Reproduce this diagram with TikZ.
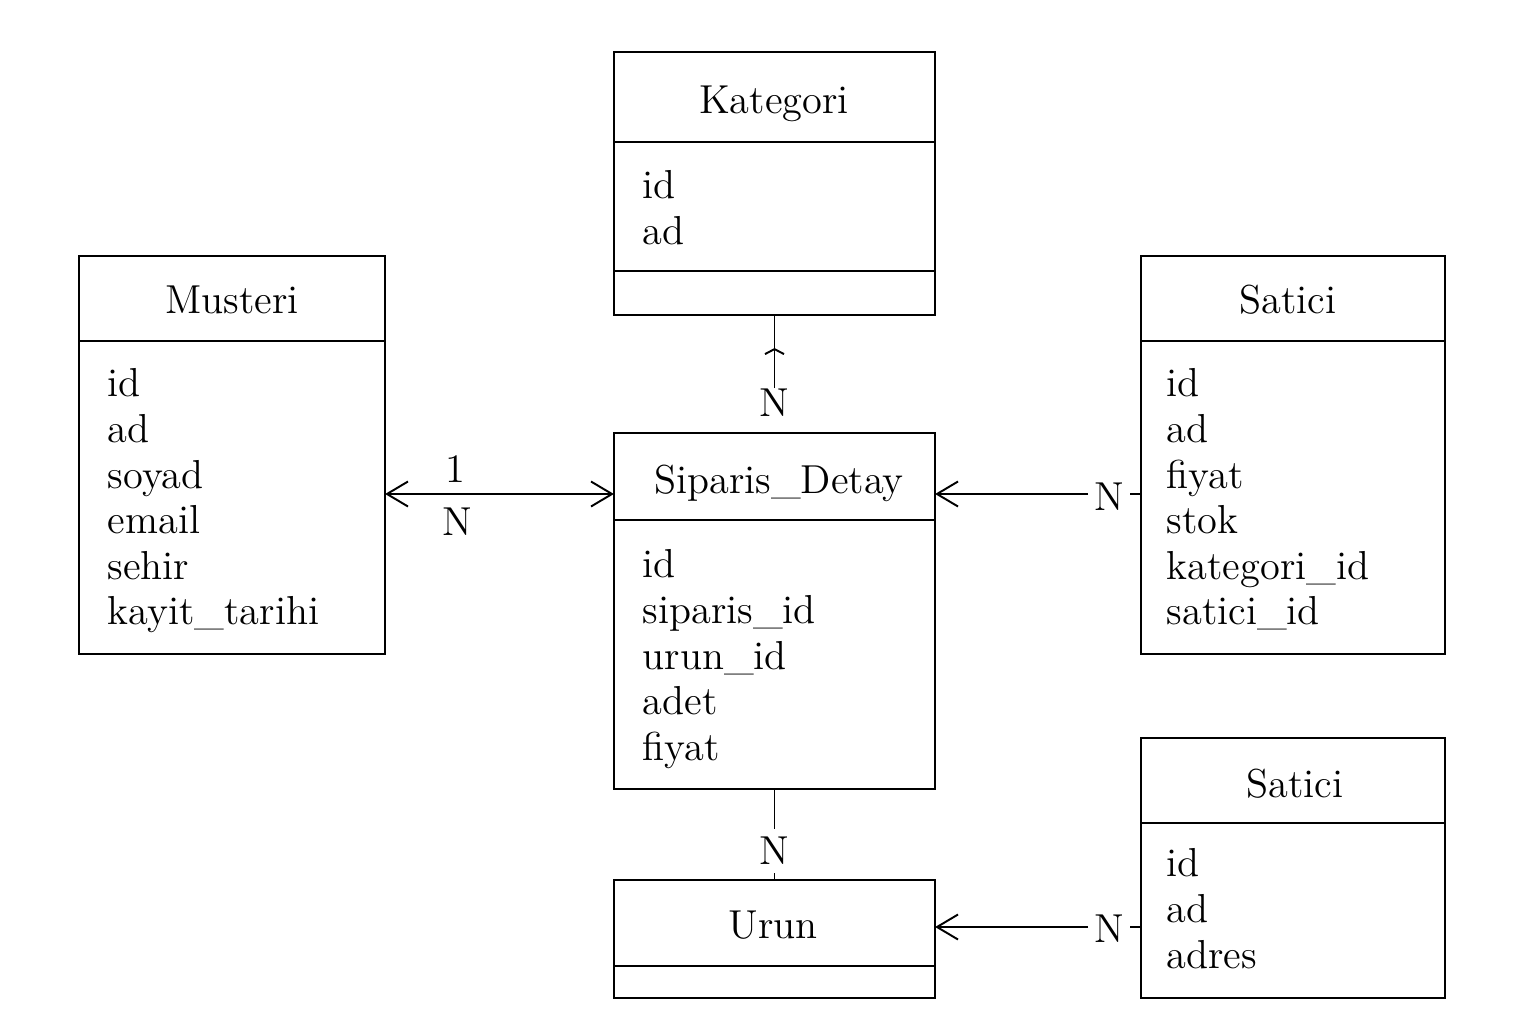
\documentclass[tikz,border=0pt]{standalone}
\usetikzlibrary{arrows.meta,calc}
\begin{document}
\begin{tikzpicture}[x=0.01cm,y=-0.01cm,
  ent/.style={draw,line width=0.6pt,rectangle,inner sep=0pt,outer sep=0pt},
  div/.style={line width=0.6pt},
  conn/.style={line width=0.55pt},
  ttl/.style={anchor=base,inner sep=0pt,font=\fontsize{11.5pt}{13pt}\selectfont},
  attr/.style={anchor=base west,inner sep=0pt,font=\fontsize{11.5pt}{13pt}\selectfont},
  card/.style={inner sep=1.5pt,font=\fontsize{11.5pt}{13pt}\selectfont},
  barb/.style={-{Straight Barb[length=0.21cm,width=0.25cm,line width=0.55pt]}},
  dbarb/.style={{Straight Barb[length=0.21cm,width=0.25cm,line width=0.55pt]}-{Straight Barb[length=0.21cm,width=0.25cm,line width=0.55pt]}}
]
\useasboundingbox[fill=white] (0,0) rectangle (1536,1024);

% Kategori
\node[ent,minimum width=3.21cm,minimum height=2.63cm] (kat) at (774.5,183.5) {};
\draw[div] (kat.west |- 0,142) -- (kat.east |- 0,142);
\draw[div] (kat.west |- 0,271) -- (kat.east |- 0,271);
\node[ttl] (katT) at (774,113) {Kategori};
\node[attr] (kat1) at (642,198) {id};
\node[attr] (kat2) at (642,244) {ad};

% Musteri
\node[ent,minimum width=3.06cm,minimum height=3.98cm] (mus) at (232,455) {};
\draw[div] (mus.west |- 0,341) -- (mus.east |- 0,341);
\node[ttl] (musT) at (232,313) {Musteri};
\node[attr] (mus1) at (107,396) {id};
\node[attr] (mus2) at (107,442) {ad};
\node[attr] (mus3) at (107,488) {soyad};
\node[attr] (mus4) at (107,533) {email};
\node[attr] (mus5) at (107,579) {sehir};
\node[attr] (mus6) at (107,624) {kayit\_tarihi};

% Siparis_Detay
\node[ent,minimum width=3.21cm,minimum height=3.56cm] (sip) at (774.5,611) {};
\draw[div] (sip.west |- 0,520) -- (sip.east |- 0,520);
\node[ttl] (sipT) at (779,493) {Siparis\_Detay};
\node[attr] (sip1) at (642,577) {id};
\node[attr] (sip2) at (642,623) {siparis\_id};
\node[attr] (sip3) at (642,669) {urun\_id};
\node[attr] (sip4) at (642,714) {adet};
\node[attr] (sip5) at (642,760) {fiyat};

% Satici (top)
\node[ent,minimum width=3.04cm,minimum height=3.98cm] (sat) at (1293,455) {};
\draw[div] (sat.west |- 0,341) -- (sat.east |- 0,341);
\node[ttl] (satT) at (1288,313) {Satici};
\node[attr] (sat1) at (1166,396) {id};
\node[attr] (sat2) at (1166,442) {ad};
\node[attr] (sat3) at (1166,488) {fiyat};
\node[attr] (sat4) at (1166,533) {stok};
\node[attr] (sat5) at (1166,579) {kategori\_id};
\node[attr] (sat6) at (1166,624) {satici\_id};

% Satici (bottom)
\node[ent,minimum width=3.04cm,minimum height=2.60cm] (satb) at (1293,868) {};
\draw[div] (satb.west |- 0,823) -- (satb.east |- 0,823);
\node[ttl] (satbT) at (1295,797) {Satici};
\node[attr] (satb1) at (1166,876) {id};
\node[attr] (satb2) at (1166,922) {ad};
\node[attr] (satb3) at (1166,968) {adres};

% Urun
\node[ent,minimum width=3.21cm,minimum height=1.18cm] (urun) at (774.5,939) {};
\draw[div] (urun.west |- 0,966) -- (urun.east |- 0,966);
\node[ttl] (urunT) at (773,938) {Urun};

% Kategori -- Siparis_Detay
\node[card,anchor=north,inner sep=0pt] (nK) at (774,388) {N};
\coordinate (kMark) at (775,348);
\draw[conn] (kat.south) -- (kat.south |- nK.north);
\draw[conn,-{Straight Barb[length=0.05cm,width=0.19cm,line width=0.55pt]}] (kat.south |- nK.north) -- (kat.south |- kMark);

% Musteri <-> Siparis_Detay
\draw[conn,dbarb] (mus.east |- 0,494) -- (sip.west |- 0,494);
\node[card] (one) at (455,469) {1};
\node[card] (nM) at (457,522) {N};

% Satici -> Siparis_Detay
\node[card] (nS) at (1109,497) {N};
\draw[conn] (sat.west |- 0,494) -- (nS.east |- 0,494);
\draw[conn,barb] (nS.west |- 0,494) -- (sip.east |- 0,494);

% Siparis_Detay -- Urun
\node[card,inner sep=2.2pt] (nU) at (774,851) {N};
\draw[conn] (sip.south) -- (sip.south |- nU.north);
\draw[conn] (sip.south |- nU.south) -- (urun.north);

% Satici (bottom) -> Urun
\node[card] (nB) at (1109,929) {N};
\draw[conn] (satb.west |- 0,927) -- (nB.east |- 0,927);
\draw[conn,barb] (nB.west |- 0,927) -- (urun.east |- 0,927);
\end{tikzpicture}
\end{document}
